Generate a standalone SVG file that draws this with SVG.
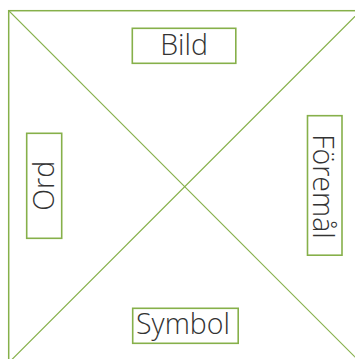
<svg xmlns="http://www.w3.org/2000/svg" width="355" height="359" viewBox="0 0 355 359">
<style>
.frame{fill:none;stroke:#86b04a;stroke-width:1.5}
.diag{fill:none;stroke:#86b04a;stroke-width:1.2}
.box{fill:#fff;stroke:#86b04a;stroke-width:1.6}
.lbl{font-family:"Open Sans","Lato","Liberation Sans",sans-serif;font-weight:300;font-size:28.5px;fill:#333;text-anchor:middle}
</style>
<rect width="355" height="359" fill="#fff"/>
<g id="connectors">
<rect class="frame" x="8.7" y="10.7" width="352" height="352"/>
<line class="diag" x1="8.7" y1="10.7" x2="360.7" y2="362.7"/>
<line class="diag" x1="360.7" y1="10.7" x2="8.7" y2="362.7"/>
</g>
<g id="bild">
<rect class="box" x="132.3" y="28.3" width="103.5" height="35"/>
<text class="lbl" x="184" y="54.8">Bild</text>
</g>
<g id="symbol">
<rect class="box" x="132.7" y="308.3" width="105.5" height="35"/>
<text class="lbl" x="183" y="334">Symbol</text>
</g>
<g id="ord">
<rect class="box" x="26.7" y="133.3" width="35" height="105"/>
<text class="lbl" transform="translate(53.8,185.8) rotate(-90)">Ord</text>
</g>
<g id="foremal">
<rect class="box" x="307.5" y="115.7" width="34.5" height="139.5"/>
<text class="lbl" transform="translate(313,186.5) rotate(90)">Föremål</text>
</g>
</svg>
